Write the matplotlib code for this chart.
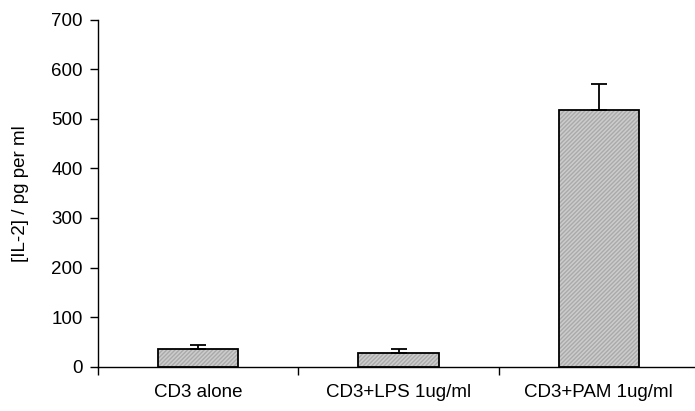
import numpy as np
import matplotlib
matplotlib.use("Agg")
import matplotlib.pyplot as plt

# ── Data ──────────────────────────────────────────────────────────────────────
categories = ["CD3 alone", "CD3+LPS 1ug/ml", "CD3+PAM 1ug/ml"]
il2_mean   = [36, 28, 518]     # pg per ml
il2_err    = [8, 7, 53]
y_ticks    = [0, 100, 200, 300, 400, 500, 600, 700]

plt.rcParams["font.family"] = ["Liberation Sans", "DejaVu Sans"]
plt.rcParams["font.size"] = 13.5

fig = plt.figure(figsize=(6.95, 4.11), dpi=100)
ax = fig.add_axes([0.141, 0.108, 0.859, 0.844])

x = np.arange(len(categories))
width = 0.4

# shaded fill + fine hatch first, then black outline on top
ax.bar(x, il2_mean, width, color="#cccccc", edgecolor="#aaaaaa",
       hatch="////////", linewidth=0, zorder=2)
ax.bar(x, il2_mean, width, fill=False, edgecolor="black",
       linewidth=1.3, zorder=3)
ax.errorbar(x, il2_mean, yerr=[np.zeros(len(il2_err)), il2_err],
            fmt="none", ecolor="black", elinewidth=1.3, capsize=6,
            capthick=1.3, zorder=4)

ax.set_xlim(-0.5, 2.48)
ax.set_ylim(0, 700)
ax.set_yticks(y_ticks)
# category separators only; the last one falls off the right edge
ax.set_xticks(x - 0.5)
ax.set_xticklabels([])
for xi, lab in zip(x, categories):
    ax.text(xi, -36, lab, ha="center", va="top")

ax.set_ylabel("[IL-2] / pg per ml", labelpad=16)
ax.tick_params(direction="out", length=6, width=1, colors="black")
ax.tick_params(axis="y", pad=5)
for side in ("top", "right"):
    ax.spines[side].set_visible(False)
for side in ("left", "bottom"):
    ax.spines[side].set_linewidth(1)

plt.savefig("out.png", dpi=100)
plt.close()
